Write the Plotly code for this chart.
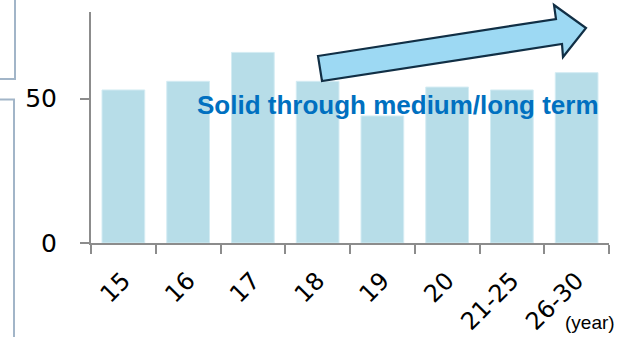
import plotly.graph_objects as go

# Data
years = ["15", "16", "17", "18", "19", "20", "21-25", "26-30"]
values = [53, 56, 66, 56, 44, 54, 53, 59]
y_ticks = [0, 50]

W, H = 619, 337
M_L, M_R, M_T, M_B = 91, 10, 12, 94
PW, PH = W - M_L - M_R, H - M_T - M_B


def px(x):
    return (x - M_L) / PW


def py(y):
    return (H - M_B - y) / PH


fig = go.Figure(
    go.Bar(
        x=years,
        y=values,
        marker=dict(color="#b7dde8", line=dict(color="#d4ecf3", width=1)),
        width=0.66,
    )
)

axis_col = "#8c8c8c"
fig.update_xaxes(
    showline=True, linecolor=axis_col, linewidth=2,
    ticks="outside", tickson="boundaries", ticklen=9, tickwidth=2, tickcolor=axis_col,
    tickangle=-45, tickfont=dict(family="DejaVu Sans", size=24, color="#000"),
    ticklabelstandoff=12, showgrid=False, range=[-0.5, 7.5],
)
fig.update_yaxes(
    range=[0, 80], tickvals=y_ticks, showline=True, linecolor=axis_col, linewidth=2,
    ticks="outside", ticklen=9, tickwidth=2, tickcolor=axis_col,
    tickfont=dict(family="DejaVu Sans", size=25, color="#000"),
    ticklabelstandoff=18, showgrid=False, zeroline=False,
)

# Trend arrow (block arrow outline)
arrow = [(318, 56), (556, 19), (554, 5), (586, 28), (563, 57), (562, 44), (322, 81)]
path = "M " + " L ".join(f"{px(x):.5f},{py(y):.5f}" for x, y in arrow) + " Z"

shapes = [
    dict(type="path", xref="paper", yref="paper", path=path,
         fillcolor="#9dd9f3", line=dict(color="#112f45", width=2.2), layer="above"),
    # neighbouring panel frames on the left
    dict(type="path", xref="paper", yref="paper",
         path=f"M {px(-2)},{py(79)} L {px(15)},{py(79)} L {px(15)},{py(-2)}",
         line=dict(color="#a2b5c8", width=2)),
    dict(type="path", xref="paper", yref="paper",
         path=f"M {px(-2)},{py(99.5)} L {px(14)},{py(99.5)} L {px(14)},{py(340)}",
         line=dict(color="#a2b5c8", width=2)),
]

annotations = [
    dict(text="<b>Solid through medium/long term</b>", xref="paper", yref="paper",
         x=px(398), y=py(105), showarrow=False, xanchor="center", yanchor="middle",
         font=dict(family="Liberation Sans, Arial", size=26, color="#0070c0")),
    dict(text="(year)", xref="paper", yref="paper",
         x=px(590), y=py(322), showarrow=False, xanchor="center", yanchor="middle",
         font=dict(family="Liberation Sans, Arial", size=19, color="#000")),
]

fig.update_layout(
    width=W, height=H,
    margin=dict(l=M_L, r=M_R, t=M_T, b=M_B, autoexpand=False),
    paper_bgcolor="white", plot_bgcolor="white",
    showlegend=False, bargap=0.34,
    shapes=shapes, annotations=annotations,
)

fig.write_html("out.html")
